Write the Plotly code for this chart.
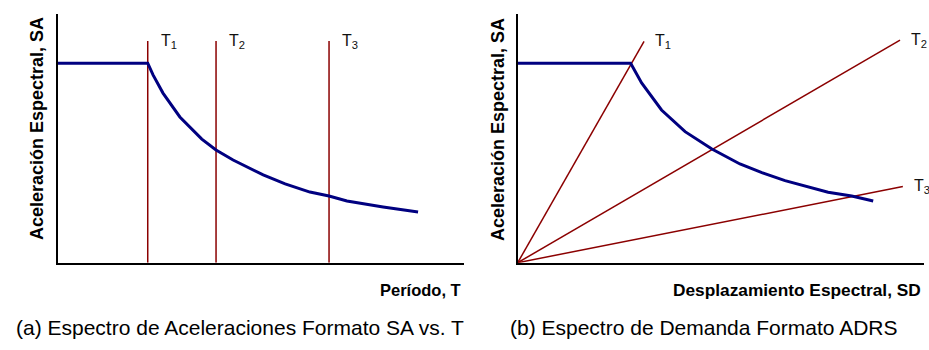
import plotly.graph_objects as go

# ---- data (arbitrary units, 0..100 on both axes) ----
# Panel (a): SA vs T
sa_t_x = [0, 22.2, 23.5, 25.95, 30.1, 35.5, 39.0, 43.2, 50.6, 56.0, 62.1, 66.8, 71.2, 80.1, 88.7]
sa_t_y = [80.2, 80.2, 75.5, 68.2, 58.6, 49.7, 45.3, 41.3, 35.3, 31.7, 28.4, 26.8, 24.8, 22.4, 20.4]
periods_x = [22.2, 39.0, 66.8]
period_top = 89.1
period_labels = ["T<sub>1</sub>", "T<sub>2</sub>", "T<sub>3</sub>"]

# Panel (b): ADRS
adrs_x = [0, 27.8, 30.5, 35.4, 41.2, 47.8, 54.7, 60.1, 65.8, 76.4, 82.2, 87.5]
adrs_y = [80.2, 80.2, 72.3, 61.4, 52.7, 45.7, 39.7, 36.2, 33.0, 28.3, 26.8, 24.8]
ray_end_x = [31.1, 94.1, 94.8]
ray_end_y = [89.0, 89.5, 30.6]

W, H = 929, 350
BLUE = "#000080"
RED = "#8b0000"
FONT = "Liberation Sans, Arial, sans-serif"

fig = go.Figure()

# Panel (a)
for px in periods_x:
    fig.add_trace(go.Scatter(x=[px, px], y=[0, period_top], mode="lines",
                             line=dict(color=RED, width=1.5), xaxis="x", yaxis="y",
                             hoverinfo="skip", showlegend=False))
fig.add_trace(go.Scatter(x=sa_t_x, y=sa_t_y, mode="lines",
                         line=dict(color=BLUE, width=3),
                         xaxis="x", yaxis="y", showlegend=False))

# Panel (b)
for ex, ey in zip(ray_end_x, ray_end_y):
    fig.add_trace(go.Scatter(x=[0, ex], y=[0, ey], mode="lines",
                             line=dict(color=RED, width=1.5), xaxis="x2", yaxis="y2",
                             hoverinfo="skip", showlegend=False))
fig.add_trace(go.Scatter(x=adrs_x, y=adrs_y, mode="lines",
                         line=dict(color=BLUE, width=3),
                         xaxis="x2", yaxis="y2", showlegend=False))

ann = []
for px, lab in zip(periods_x, period_labels):
    ann.append(dict(x=px, y=period_top, xref="x", yref="y", text=lab, showarrow=False,
                    xanchor="left", yanchor="middle", xshift=11, yshift=0,
                    font=dict(family=FONT, size=16, color="#111")))
for ex, ey, lab in zip(ray_end_x, ray_end_y, period_labels):
    ann.append(dict(x=ex, y=ey, xref="x2", yref="y2", text=lab, showarrow=False,
                    xanchor="left", yanchor="middle", xshift=9,
                    font=dict(family=FONT, size=16, color="#111")))

def px_x(p):
    return p / W

def px_y(p):
    return (H - p) / H

# axis titles
ann += [
    dict(x=px_x(463), y=px_y(290), xref="paper", yref="paper", text="<b>Período, T</b>",
         showarrow=False, xanchor="right", yanchor="middle",
         font=dict(family=FONT, size=16.5, color="#000")),
    dict(x=px_x(923), y=px_y(290), xref="paper", yref="paper",
         text="<b>Desplazamiento Espectral, SD</b>",
         showarrow=False, xanchor="right", yanchor="middle",
         font=dict(family=FONT, size=17.3, color="#000")),
    dict(x=px_x(37), y=px_y(129), xref="paper", yref="paper",
         text="<b>Aceleración Espectral, SA</b>", textangle=-90,
         showarrow=False, xanchor="center", yanchor="middle",
         font=dict(family=FONT, size=18, color="#000")),
    dict(x=px_x(498), y=px_y(130), xref="paper", yref="paper",
         text="<b>Aceleración Espectral, SA</b>", textangle=-90,
         showarrow=False, xanchor="center", yanchor="middle",
         font=dict(family=FONT, size=18, color="#000")),
    dict(x=px_x(240), y=px_y(327), xref="paper", yref="paper",
         text="(a) Espectro de Aceleraciones Formato SA vs. T",
         showarrow=False, xanchor="center", yanchor="middle",
         font=dict(family=FONT, size=21, color="#000")),
    dict(x=px_x(704), y=px_y(327), xref="paper", yref="paper",
         text="(b) Espectro de Demanda Formato ADRS",
         showarrow=False, xanchor="center", yanchor="middle",
         font=dict(family=FONT, size=21, color="#000")),
]

axis_common = dict(range=[0, 100], showgrid=False, zeroline=False, showticklabels=False,
                   ticks="", showline=True, linecolor="#000", linewidth=2, fixedrange=True)

fig.update_layout(
    width=W, height=H,
    margin=dict(l=0, r=0, t=0, b=0),
    paper_bgcolor="white", plot_bgcolor="white",
    xaxis=dict(domain=[px_x(57.5), px_x(464)], anchor="y", **axis_common),
    yaxis=dict(domain=[px_y(262.7), px_y(14)], anchor="x", **axis_common),
    xaxis2=dict(domain=[px_x(517.7), px_x(924)], anchor="y2", **axis_common),
    yaxis2=dict(domain=[px_y(262.7), px_y(14)], anchor="x2", **axis_common),
    annotations=ann,
    showlegend=False,
)

fig.write_html("out.html")
